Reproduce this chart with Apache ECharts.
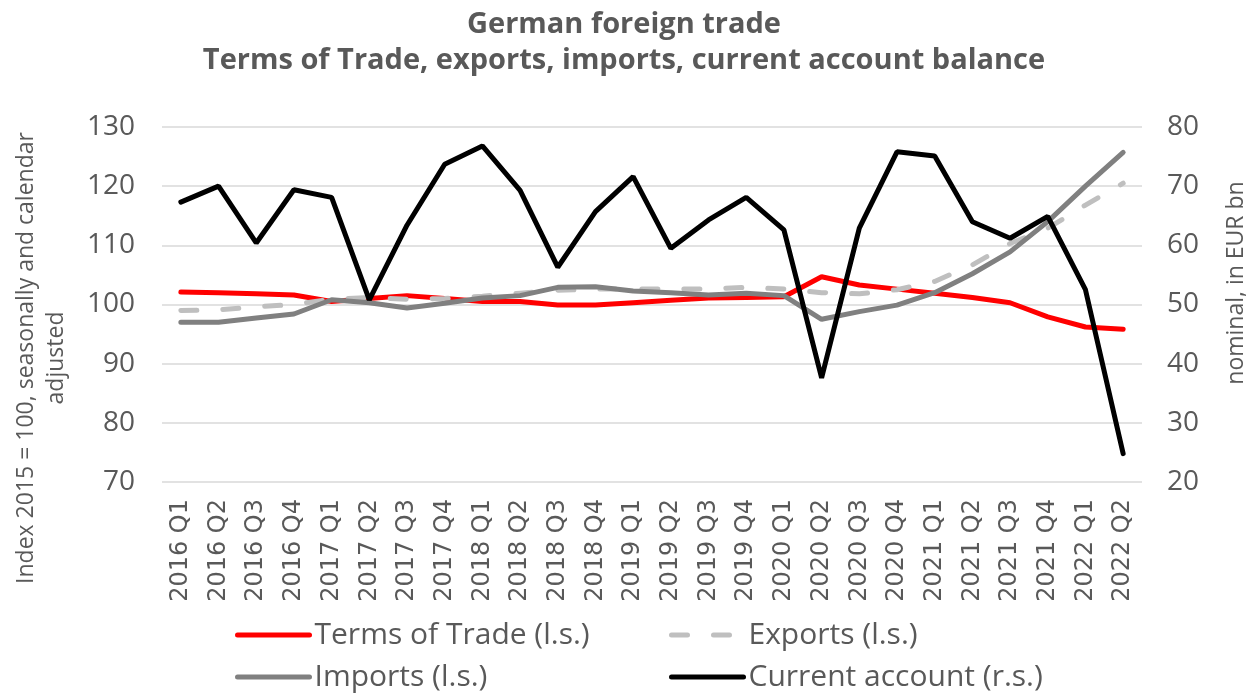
<!DOCTYPE html>
<html>
<head>
<meta charset="utf-8">
<script src="https://cdn.jsdelivr.net/npm/echarts@6/dist/echarts.min.js"></script>
<style>
html,body{margin:0;padding:0;background:#fff;}
#chart{width:1248px;height:695px;}
</style>
</head>
<body>
<div id="chart"></div>
<script>
var categories = ['2016 Q1','2016 Q2','2016 Q3','2016 Q4','2017 Q1','2017 Q2','2017 Q3','2017 Q4',
  '2018 Q1','2018 Q2','2018 Q3','2018 Q4','2019 Q1','2019 Q2','2019 Q3','2019 Q4',
  '2020 Q1','2020 Q2','2020 Q3','2020 Q4','2021 Q1','2021 Q2','2021 Q3','2021 Q4','2022 Q1','2022 Q2'];
var termsOfTrade = [102.1,102.0,101.8,101.6,100.5,101.0,101.5,101.0,100.5,100.5,99.9,99.9,100.3,100.7,101.1,101.2,101.3,104.7,103.3,102.6,101.9,101.2,100.3,97.9,96.2,95.8];
var exportsIdx = [99.0,99.1,99.6,100.0,100.9,101.2,100.9,101.0,101.4,101.9,102.4,102.6,102.6,102.6,102.6,102.9,102.6,102.0,101.8,102.5,103.9,106.7,110.3,112.9,116.8,120.5];
var importsIdx = [97.0,97.0,97.7,98.4,100.8,100.3,99.4,100.2,101.1,101.5,102.9,103.0,102.3,102.0,101.6,101.9,101.5,97.5,98.8,99.9,102.0,105.2,108.9,114.0,120.0,125.7];
var currentAccount = [67.3,70.0,60.4,69.4,68.1,50.8,63.4,73.7,76.8,69.3,56.3,65.7,71.6,59.5,64.3,68.1,62.6,37.6,62.9,75.8,75.1,64.0,61.2,64.9,52.5,24.8];
var leftTicks = {min:70, max:130, interval:10};
var rightTicks = {min:20, max:80, interval:10};
var titleLines = ['German foreign trade','Terms of Trade, exports, imports, current account balance'];
var leftName = 'Index 2015 = 100, seasonally and calendar\nadjusted';
var rightName = 'nominal, in EUR bn';
var names = ['Terms of Trade (l.s.)','Exports (l.s.)','Imports (l.s.)','Current account (r.s.)'];

var txt = '#595959';
var chart = echarts.init(document.getElementById('chart'), null, {renderer:'canvas'});
var legendText = {fontFamily:'Open Sans', fontSize:30, color:txt, lineHeight:30};
var legendBase = {orient:'vertical', top:620, padding:0, itemWidth:72, itemHeight:14, itemGap:12,
  textStyle:legendText, selectedMode:false,
  lineStyle:{width:5, cap:'round'},
  itemStyle:{color:'rgba(0,0,0,0)', borderWidth:0, borderColor:'rgba(0,0,0,0)'}};
chart.setOption({
  animation:false,
  title:{
    text: titleLines.join('\n'),
    left:'center', top:2,
    textStyle:{fontFamily:'Open Sans', fontWeight:'bold', fontSize:29, color:txt, lineHeight:36}
  },
  grid:{left:162, right:106, top:127, bottom:213, containLabel:false},
  legend:[
    Object.assign({data:[names[0], names[2]], left:235}, legendBase),
    Object.assign({data:[names[1], names[3]], left:669}, legendBase)
  ],
  xAxis:{
    type:'category', data:categories, boundaryGap:true,
    axisLine:{show:false}, axisTick:{show:false},
    axisLabel:{rotate:90, interval:0, margin:17, fontFamily:'DejaVu Sans', fontSize:24, color:txt}
  },
  yAxis:[
    {type:'value', min:leftTicks.min, max:leftTicks.max, interval:leftTicks.interval,
     axisLine:{show:false}, axisTick:{show:false},
     axisLabel:{margin:27, fontFamily:'Open Sans', fontSize:28, color:txt},
     splitLine:{lineStyle:{color:'#D9D9D9', width:1.5}}},
    {type:'value', min:rightTicks.min, max:rightTicks.max, interval:rightTicks.interval,
     axisLine:{show:false}, axisTick:{show:false},
     axisLabel:{margin:25, fontFamily:'Open Sans', fontSize:28, color:txt},
     splitLine:{show:false}}
  ],
  graphic:[
    {type:'text', x:41, y:358, rotation:Math.PI/2,
     style:{text:leftName, textAlign:'center', textVerticalAlign:'middle', fontFamily:'Open Sans', fontSize:23, lineHeight:30, fill:txt}},
    {type:'text', x:1236, y:283, rotation:Math.PI/2,
     style:{text:rightName, textAlign:'center', textVerticalAlign:'middle', fontFamily:'Open Sans', fontSize:23, fill:txt}}
  ],
  series:[
    {name:names[0], type:'line', yAxisIndex:0, data:termsOfTrade, symbol:'none',
     lineStyle:{color:'#FF0000', width:5, cap:'round'}, itemStyle:{color:'#FF0000'}},
    {name:names[1], type:'line', yAxisIndex:0, data:exportsIdx, symbol:'none',
     lineStyle:{color:'#BFBFBF', width:5, type:[16,26], cap:'round'}, itemStyle:{color:'#BFBFBF'}},
    {name:names[2], type:'line', yAxisIndex:0, data:importsIdx, symbol:'none',
     lineStyle:{color:'#808080', width:5, cap:'round'}, itemStyle:{color:'#808080'}},
    {name:names[3], type:'line', yAxisIndex:1, data:currentAccount, symbol:'none',
     lineStyle:{color:'#000000', width:5, cap:'round'}, itemStyle:{color:'#000000'}}
  ]
});
</script>
</body>
</html>
